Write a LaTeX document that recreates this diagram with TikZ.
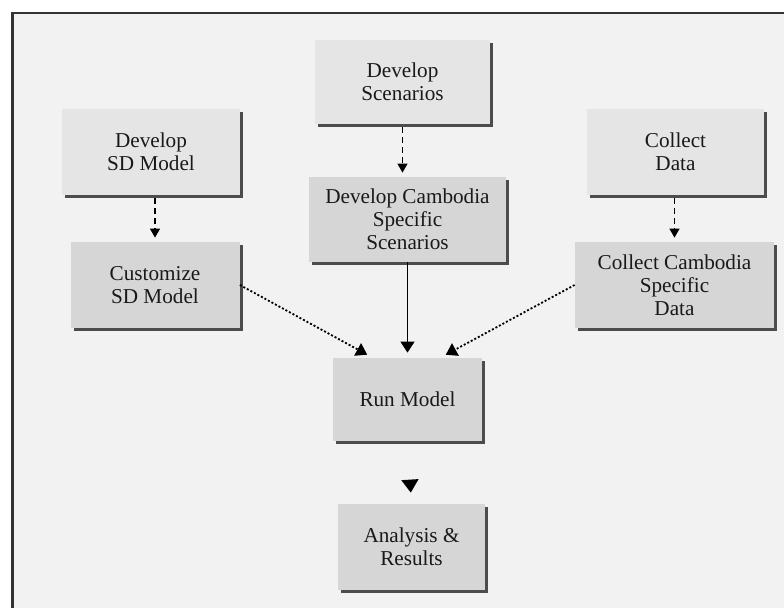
\documentclass[tikz,border=0pt]{standalone}
\usepackage{fontspec}
\setmainfont{Liberation Serif}
\usetikzlibrary{arrows.meta,shadows,calc}
\begin{document}
\begin{tikzpicture}[x=0.5pt,y=-0.5pt,
  box/.style={fill=#1, text=black!90, align=center, inner sep=0pt,
    font=\fontsize{10.6}{11.5}\selectfont,
    drop shadow={shadow xshift=1.5pt, shadow yshift=-1.5pt, fill=black!70, opacity=1}},
  dsh/.style={line width=0.7pt, dash pattern=on 3pt off 2pt, -{Triangle[width=5pt,length=4.5pt]}, shorten >=2pt},
  dot/.style={line width=0.9pt, dash pattern=on 1pt off 1pt, -{Triangle[width=7pt,length=5.5pt]}, shorten >=3pt},
  sol/.style={line width=0.7pt, -{Triangle[width=7pt,length=5.5pt]}, shorten >=2.5pt}]
\clip (0,0) rectangle (784,608);
\fill[white] (0,0) rectangle (784,608);
\fill[black!5] (12.5,13) rectangle (800,620);
\draw[line width=1.2pt, black!80] (12.5,13) rectangle (800,620);
\node[box=black!10, minimum width=87.5pt, minimum height=42pt] (scen) at (402.5,82) {Develop\\Scenarios};
\node[box=black!10, minimum width=89pt, minimum height=43pt] (sdm) at (151,152) {Develop\\SD Model};
\node[box=black!10, minimum width=88.5pt, minimum height=43pt] (coll) at (675.5,152) {Collect\\Data};
\node[box=black!16, minimum width=98.5pt, minimum height=42.5pt] (cambscen) at (407.5,219.5) {Develop Cambodia\\Specific\\Scenarios};
\node[box=black!16, minimum width=84.5pt, minimum height=43pt] (cust) at (155,285) {Customize\\SD Model};
\node[box=black!16, minimum width=99.5pt, minimum height=43pt] (colcamb) at (674.5,285) {Collect Cambodia\\Specific\\Data};
\node[box=black!16, minimum width=74.5pt, minimum height=41.5pt] (run) at (407.5,399.5) {Run Model};
\node[box=black!16, minimum width=73.5pt, minimum height=43pt] (ana) at (411.5,547) {Analysis \&\\Results};
\draw[dsh] ($(scen.south)+(0,3)$) -- (scen.south |- cambscen.north);
\draw[dsh] ($(sdm.south -| cust.north)+(0,3)$) -- (cust.north);
\draw[dsh] ($(coll.south -| colcamb.north)+(0,3)$) -- (colcamb.north);
\draw[dot] (cust.east) -- ($(run.north)+(-35,0)$);
\draw[sol] (cambscen.south -| run.north) -- (run.north);
\draw[dot] (colcamb.west) -- ($(run.north)+(33,0)$);
\draw[-{Triangle[width=8.5pt,length=6.5pt]}, line width=0.7pt, shorten <=19.5pt, shorten >=5.5pt] (run.south) -- (ana.north);
\end{tikzpicture}
\end{document}
